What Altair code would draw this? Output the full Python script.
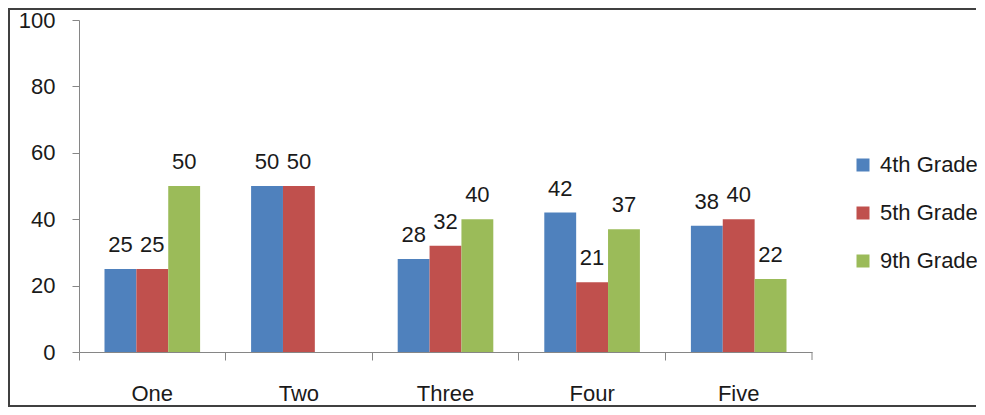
import altair as alt
import pandas as pd

categories = ["One", "Two", "Three", "Four", "Five"]
series = ["4th Grade", "5th Grade", "9th Grade"]
grade4 = [25, 50, 28, 42, 38]
grade5 = [25, 50, 32, 21, 40]
grade9 = [50, None, 40, 37, 22]
colors = ["#4F81BD", "#C0504D", "#9BBB59"]
y_ticks = [0, 20, 40, 60, 80, 100]

rows = []
for s, vals in zip(series, [grade4, grade5, grade9]):
    for c, v in zip(categories, vals):
        rows.append({"category": c, "series": s, "value": v})
df = pd.DataFrame(rows)
frame_df = pd.DataFrame({"k": [0]})

W, H = 733, 332
PAD = {"left": 71, "top": 12, "right": 165, "bottom": 55}
FONT = "Liberation Sans"
FS = 22
AXIS_COLOR = "#868686"
TEXT_COLOR = "#1a1a1a"
BORDER = "#404040"

x_enc = alt.X(
    "category:N",
    sort=categories,
    scale=alt.Scale(paddingInner=0, paddingOuter=0),
    axis=alt.Axis(
        title=None, labelAngle=0, bandPosition=0,
        tickSize=8, labelPadding=23, domainColor=AXIS_COLOR, tickColor=AXIS_COLOR,
        labelFont=FONT, labelFontSize=FS, labelColor=TEXT_COLOR,
    ),
)
y_enc = alt.Y(
    "value:Q",
    scale=alt.Scale(domain=[0, 100], nice=False),
    axis=alt.Axis(
        title=None, values=y_ticks, grid=False, tickSize=7, labelPadding=17,
        domainColor=AXIS_COLOR, tickColor=AXIS_COLOR,
        labelFont=FONT, labelFontSize=FS, labelColor=TEXT_COLOR,
    ),
)
xoff = alt.XOffset("series:N", sort=series, scale=alt.Scale(paddingOuter=0.8, paddingInner=0))
color_enc = alt.Color(
    "series:N", sort=series,
    scale=alt.Scale(domain=series, range=colors),
    legend=alt.Legend(
        title=None, orient="none", legendX=773, legendY=134,
        symbolType="square", symbolSize=169, symbolStrokeWidth=0, symbolOpacity=1,
        labelFont=FONT, labelFontSize=FS, labelColor=TEXT_COLOR, labelOffset=6,
        rowPadding=26, padding=0,
    ),
)

base = alt.Chart(df)
bars = base.mark_bar().encode(x=x_enc, y=y_enc, xOffset=xoff, color=color_enc)
labels = base.mark_text(
    baseline="alphabetic", dy=-17, font=FONT, fontSize=FS, color=TEXT_COLOR
).encode(x=x_enc, y=y_enc, xOffset=xoff, text=alt.Text("value:Q", format="d"))

end_tick = alt.Chart(frame_df).mark_rule(color=AXIS_COLOR, strokeWidth=1).encode(
    x=alt.value(W), y=alt.value(H), y2=alt.value(H + 8)
)

# outer chart frame: top, left and bottom edges only (right edge is dashed away)
left_x = -PAD["left"] + 1
top_y = -PAD["top"] + 1
bottom_y = H + PAD["bottom"] - 1
right_x = W + PAD["right"] - 1
fw = right_x - left_x
fh = bottom_y - top_y
border = alt.Chart(frame_df).mark_rect(
    filled=False, stroke=BORDER, strokeWidth=2, strokeDash=[fw, fh, fw + fh, 1]
).encode(x=alt.value(left_x), x2=alt.value(right_x), y=alt.value(top_y), y2=alt.value(bottom_y))

chart = alt.layer(border, bars, labels, end_tick).properties(
    width=W, height=H,
    autosize="none",
    background="white",
    padding=PAD,
).configure_view(strokeWidth=0, stroke="transparent")

chart.save("out.html", embed_options={"renderer": "svg", "actions": False})
